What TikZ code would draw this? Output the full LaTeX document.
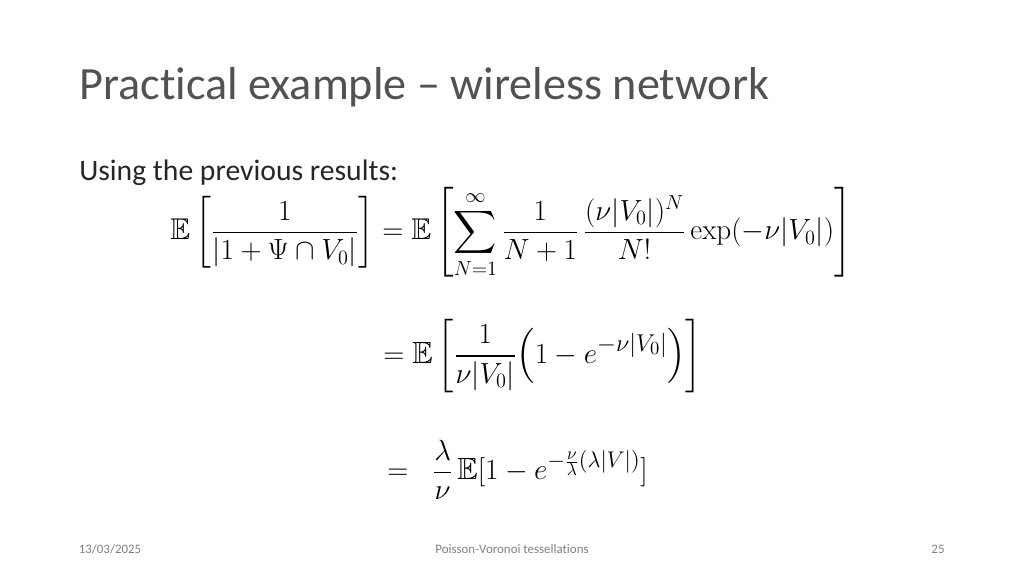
\documentclass[tikz,border=0pt]{standalone}
\usepackage{amsmath}
\usepackage{amssymb}
\usepackage[no-math]{fontspec}
\setmainfont[Ligatures=NoCommon]{Carlito}
\newcommand{\bigexp}[2][1.2]{\scalebox{#1}{$\scriptstyle #2$}}
\tikzset{
    slidetitle/.style={anchor=base west, inner sep=0pt, text=black!68, font=\fontsize{32.85}{38}\selectfont},
    slidetext/.style={anchor=base west, inner sep=0pt, text=black!85, font=\fontsize{21.1}{25}\selectfont},
    slidefoot/.style={anchor=base, inner sep=0pt, text=black!50, font=\fontsize{9.2}{11}\selectfont},
    formula/.style={anchor=west, inner sep=0pt, text=black, font=\fontsize{21.8}{26}\selectfont},
}
\begin{document}
\begin{tikzpicture}[x=.025cm, y=-.025cm]
    \useasboundingbox (0, 0) rectangle (1024, 576);
    \node[slidetitle] (title) at (79, 100) {Practical example -- wireless network};
    \node[slidetext] (intro) at (79, 181) {Using the previous results:};
    \node[formula, font=\fontsize{21.3}{26}\selectfont] (lineone) at (170, 233) {$\displaystyle \mathbb{E}\left[\frac{1}{|1+\Psi\cap V_0|}\right]=\mathbb{E}\left[\sum_{N=1}^{\infty}\frac{1}{N+1}\,\frac{(\nu|V_0|)^N}{N!}\exp(-\nu|V_0|)\right]$};
    \node[formula] (linetwo) at (383, 356) {$\displaystyle =\mathbb{E}\left[\frac{1}{\nu|V_0|}\!\left(1-e^{\bigexp{-\nu|V_0|}}\right)\right]$};
    \node[formula] (linethree) at (387, 470) {$\displaystyle =\;\;\frac{\lambda}{\nu}\,\mathbb{E}[1-e^{\bigexp[1.12]{-\frac{\nu}{\lambda}(\lambda|V|)}}]$};
    \node[slidefoot] (date) at (110, 553) {13/03/2025};
    \node[slidefoot] (topic) at (512, 553) {Poisson-Voronoi tessellations};
    \node[slidefoot] (page) at (938, 553) {25};
\end{tikzpicture}
\end{document}
